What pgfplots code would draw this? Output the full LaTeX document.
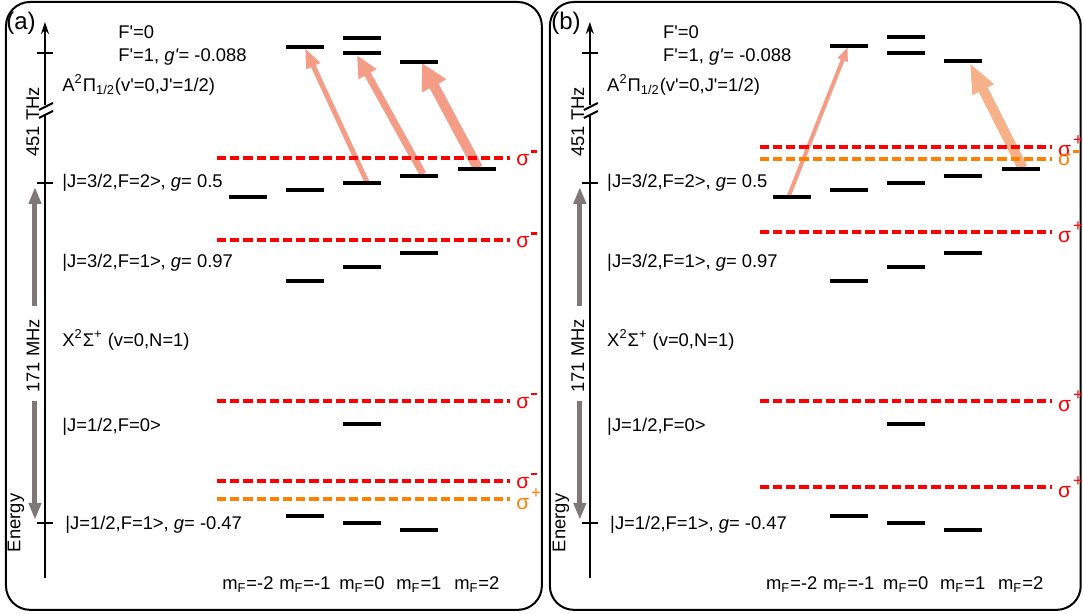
\documentclass[border=0pt]{standalone}
\usepackage{fontspec}
\setmainfont{Liberation Sans}
\usepackage{pgfplots}
\pgfplotsset{compat=1.18}
\usetikzlibrary{arrows.meta}

\definecolor{pumpa}{HTML}{F59C87}
\definecolor{pumpb}{HTML}{F7B189}
\definecolor{sigred}{HTML}{FF0000}
\definecolor{sigorange}{HTML}{FF8000}
\definecolor{axgray}{HTML}{807877}

\newcommand{\p}{\textquotesingle}
\newcommand{\sigp}{{\fontsize{10.5}{12}\selectfont σ}\hspace{1pt}\raisebox{5.5pt}{\fontsize{8.5}{8.5}\selectfont +}}
\newcommand{\sigm}{{\fontsize{10.5}{12}\selectfont σ}\hspace{1pt}\raisebox{6.5pt}{\rule{3pt}{1.2pt}}}
\tikzset{lab/.style={anchor=west, inner sep=0pt}}

\begin{document}
\begin{tikzpicture}[font=\fontsize{9.2}{11}\selectfont]
\begin{axis}[
    x=0.5pt, y=0.5pt, y dir=reverse,
    xmin=0, xmax=1083, ymin=0, ymax=614,
    hide axis, clip=false,
    level/.style={only marks, mark=-, mark size=9.5pt,
        mark options={line width=2pt, black}},
    pol/.style={line width=1.8pt, dash pattern=on 4.6pt off 2pt},
    eaxis/.style={line width=1pt, black},
  ]
  % keep the page at the picture size
  \addplot[draw=none] coordinates {(0,0) (1083,614)};

  % panel frames
  \draw[line width=1pt, rounded corners=12pt] (axis cs:6,2) rectangle (axis cs:542,610);
  \draw[line width=1pt, rounded corners=12pt] (axis cs:550,2) rectangle (axis cs:1081,610);

  % ---------------- panel (a) ----------------
  % energy axis with break
  \addplot[eaxis] coordinates {(45,578) (45,115)};
  \addplot[eaxis, -{Stealth[length=6pt, width=4pt]}] coordinates {(45,105) (45,22)};
  \addplot[eaxis] coordinates {(39,110) (53,103)};
  \addplot[eaxis] coordinates {(39,118) (53,111)};
  \addplot[eaxis] coordinates {(37,53) (53,53)};
  \addplot[eaxis] coordinates {(37,183) (53,183)};
  \addplot[eaxis] coordinates {(37,523) (53,523)};
  % 171 MHz double arrow
  \addplot[axgray, line width=2.5pt, -{Triangle[length=8.5pt, width=6pt]}] coordinates {(35,306) (35,187)};
  \addplot[axgray, line width=2.5pt, -{Triangle[length=8.5pt, width=6pt]}] coordinates {(35,401) (35,520)};

  % pumping arrows
  \addplot[pumpa, line width=2.5pt, -{Triangle[length=10pt, width=7pt]}] coordinates {(367,182) (305,48)};
  \addplot[pumpa, line width=3.5pt, -{Triangle[length=11pt, width=9.5pt]}] coordinates {(423,174) (357,55)};
  \addplot[pumpa, line width=5pt, -{Triangle[length=13pt, width=13pt]}] coordinates {(478,168) (422,63)};

  % light polarisations
  \addplot[sigred, pol] coordinates {(217,158) (510,158)};
  \addplot[sigred, pol] coordinates {(217,240) (510,240)};
  \addplot[sigred, pol] coordinates {(217,401) (510,401)};
  \addplot[sigred, pol] coordinates {(217,481) (510,481)};
  \addplot[sigorange, pol] coordinates {(217,499) (510,499)};

  % Zeeman sublevels
  \addplot[level] coordinates {
    (362,38)
    (305,47) (362,53) (419,62)
    (248,197) (305,190) (362,183) (419,176) (477,169)
    (305,281) (362,267) (419,253)
    (362,424)
    (305,516) (362,523) (419,530)
  };

  % ---------------- panel (b) ----------------
  \addplot[eaxis] coordinates {(590,578) (590,115)};
  \addplot[eaxis, -{Stealth[length=6pt, width=4pt]}] coordinates {(590,105) (590,22)};
  \addplot[eaxis] coordinates {(584,110) (598,103)};
  \addplot[eaxis] coordinates {(584,118) (598,111)};
  \addplot[eaxis] coordinates {(582,53) (598,53)};
  \addplot[eaxis] coordinates {(582,183) (598,183)};
  \addplot[eaxis] coordinates {(582,523) (598,523)};
  \addplot[axgray, line width=2.5pt, -{Triangle[length=8.5pt, width=6pt]}] coordinates {(580,306) (580,187)};
  \addplot[axgray, line width=2.5pt, -{Triangle[length=8.5pt, width=6pt]}] coordinates {(580,401) (580,520)};

  \addplot[pumpa, line width=2pt, -{Triangle[length=7pt, width=5pt]}] coordinates {(789,196) (848,47)};
  \addplot[pumpb, line width=5pt, -{Triangle[length=15pt, width=11pt]}] coordinates {(1023,168) (970,63)};

  \addplot[sigred, pol] coordinates {(760,147) (1052,147)};
  \addplot[sigorange, pol] coordinates {(760,159) (1052,159)};
  \addplot[sigred, pol] coordinates {(760,232) (1052,232)};
  \addplot[sigred, pol] coordinates {(760,401) (1052,401)};
  \addplot[sigred, pol] coordinates {(760,487) (1052,487)};

  \addplot[level] coordinates {
    (906,37)
    (849,46) (906,53) (963,61)
    (792,197) (849,190) (906,183) (963,176) (1021,169)
    (849,281) (906,267) (963,253)
    (906,424)
    (849,516) (906,523) (963,530)
  };

  % ---------------- labels (a) ----------------
  \node[lab, font=\fontsize{12}{14}\selectfont] at (axis cs:6,23) {(a)};
  \node[lab] at (axis cs:118,32) {F\p=0};
  \node[lab] at (axis cs:118,57) {F\p=1, \textit{g\p}= -0.088};
  \node[lab] at (axis cs:62,85) {A\textsuperscript{2}Π\textsubscript{1/2}(v\p=0,J\p=1/2)};
  \node[lab] at (axis cs:62,183) {|J=3/2,F=2>, \textit{g}= 0.5};
  \node[lab] at (axis cs:62,263) {|J=3/2,F=1>, \textit{g}= 0.97};
  \node[lab] at (axis cs:62,340) {X\textsuperscript{2}Σ\textsuperscript{+} (v=0,N=1)};
  \node[lab] at (axis cs:62,427) {|J=1/2,F=0>};
  \node[lab] at (axis cs:65,525) {|J=1/2,F=1>, \textit{g}= -0.47};
  \node[rotate=90, inner sep=0pt] at (axis cs:33,122) {451 THz};
  \node[rotate=90, inner sep=0pt] at (axis cs:33,356) {171 MHz};
  \node[rotate=90, inner sep=0pt] at (axis cs:16,523) {Energy};
  \node[inner sep=0pt] at (axis cs:248,585) {m\textsubscript{F}=-2};
  \node[inner sep=0pt] at (axis cs:305,585) {m\textsubscript{F}=-1};
  \node[inner sep=0pt] at (axis cs:362,585) {m\textsubscript{F}=0};
  \node[inner sep=0pt] at (axis cs:419,585) {m\textsubscript{F}=1};
  \node[inner sep=0pt] at (axis cs:477,585) {m\textsubscript{F}=2};
  \node[lab, text=sigred] at (axis cs:516,158) {\sigm};
  \node[lab, text=sigred] at (axis cs:516,240) {\sigm};
  \node[lab, text=sigred] at (axis cs:516,401) {\sigm};
  \node[lab, text=sigred] at (axis cs:516,481) {\sigm};
  \node[lab, text=sigorange] at (axis cs:516,499) {\sigp};

  % ---------------- labels (b) ----------------
  \node[lab, font=\fontsize{12}{14}\selectfont] at (axis cs:551,23) {(b)};
  \node[lab] at (axis cs:663,32) {F\p=0};
  \node[lab] at (axis cs:663,57) {F\p=1, \textit{g\p}= -0.088};
  \node[lab] at (axis cs:607,85) {A\textsuperscript{2}Π\textsubscript{1/2}(v\p=0,J\p=1/2)};
  \node[lab] at (axis cs:607,183) {|J=3/2,F=2>, \textit{g}= 0.5};
  \node[lab] at (axis cs:607,263) {|J=3/2,F=1>, \textit{g}= 0.97};
  \node[lab] at (axis cs:607,340) {X\textsuperscript{2}Σ\textsuperscript{+} (v=0,N=1)};
  \node[lab] at (axis cs:607,427) {|J=1/2,F=0>};
  \node[lab] at (axis cs:610,525) {|J=1/2,F=1>, \textit{g}= -0.47};
  \node[rotate=90, inner sep=0pt] at (axis cs:578,122) {451 THz};
  \node[rotate=90, inner sep=0pt] at (axis cs:578,356) {171 MHz};
  \node[rotate=90, inner sep=0pt] at (axis cs:561,523) {Energy};
  \node[inner sep=0pt] at (axis cs:792,585) {m\textsubscript{F}=-2};
  \node[inner sep=0pt] at (axis cs:849,585) {m\textsubscript{F}=-1};
  \node[inner sep=0pt] at (axis cs:906,585) {m\textsubscript{F}=0};
  \node[inner sep=0pt] at (axis cs:963,585) {m\textsubscript{F}=1};
  \node[inner sep=0pt] at (axis cs:1021,585) {m\textsubscript{F}=2};
  \node[lab, text=sigred] at (axis cs:1058,146) {\sigp};
  \node[lab, text=sigorange] at (axis cs:1058,158) {\sigm};
  \node[lab, text=sigred] at (axis cs:1058,232) {\sigp};
  \node[lab, text=sigred] at (axis cs:1058,401) {\sigp};
  \node[lab, text=sigred] at (axis cs:1058,487) {\sigp};
\end{axis}
\end{tikzpicture}
\end{document}
